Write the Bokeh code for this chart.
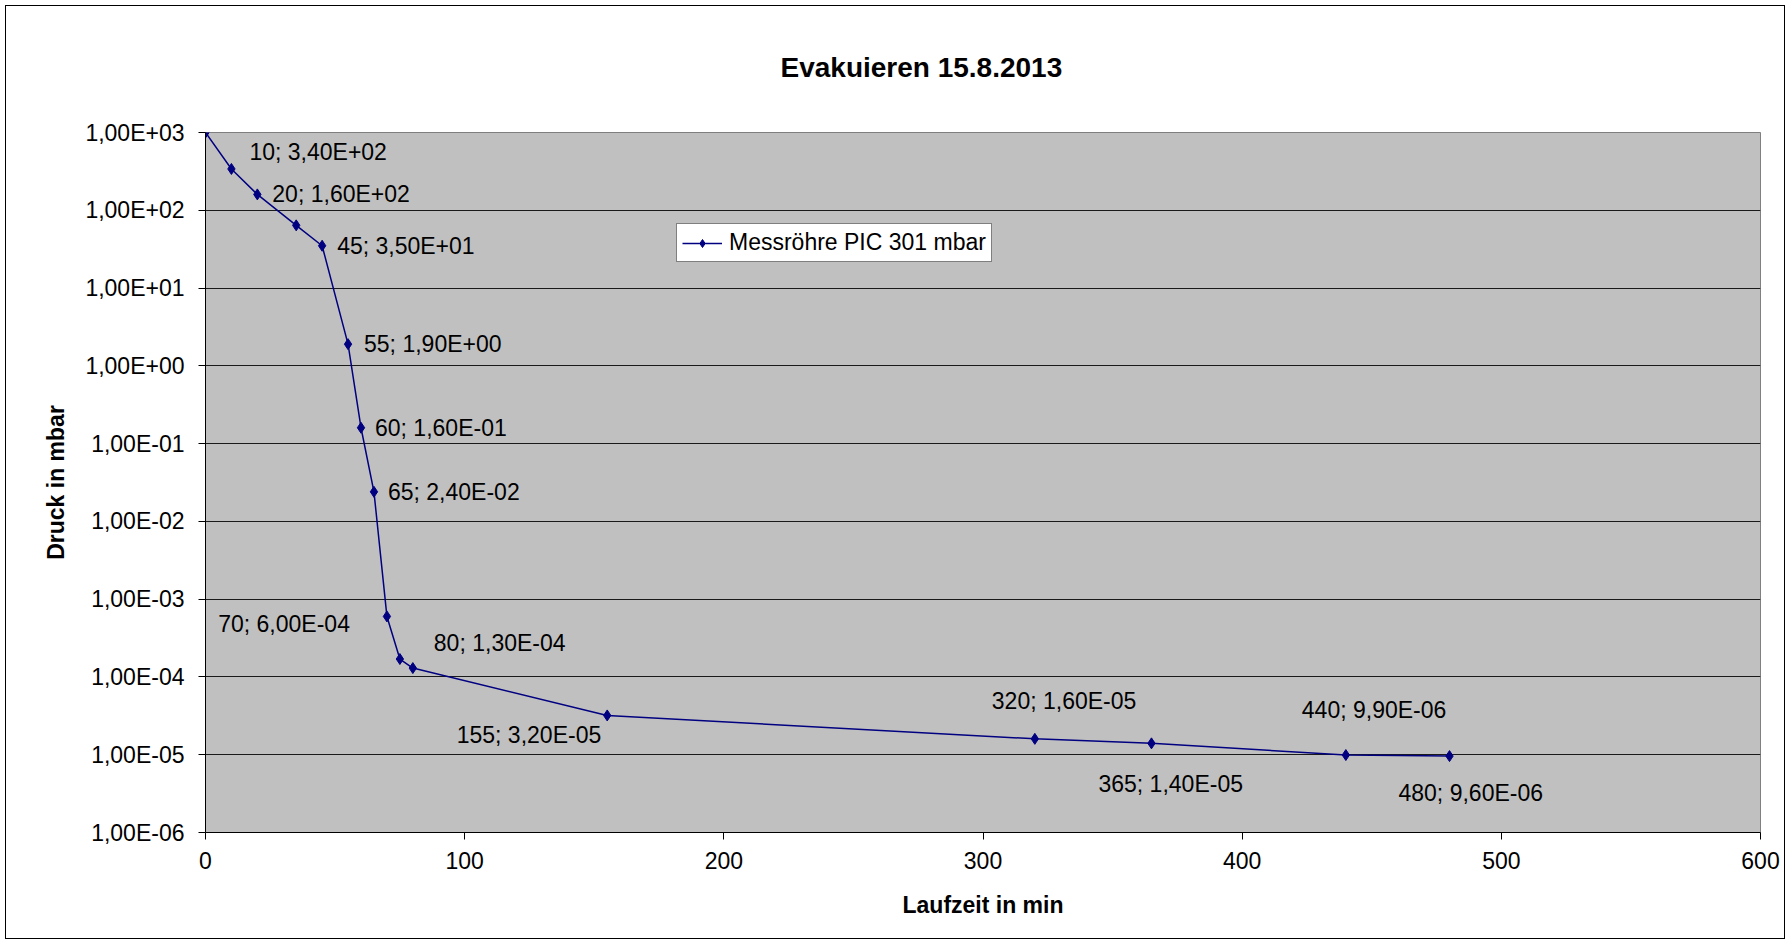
from bokeh.plotting import figure
from bokeh.models import (FixedTicker, CustomJSTickFormatter, ColumnDataSource,
                          Range1d, InlineStyleSheet)
from bokeh.embed import file_html
from bokeh.resources import INLINE
from bokeh.core.properties import value

# ---------------- data ----------------
time_min = [0, 10, 20, 35, 45, 55, 60, 65, 70, 75, 80, 155, 320, 365, 440, 480]
pressure_mbar = [1000, 340, 160, 64, 35, 1.9, 0.16, 0.024, 6.0e-4, 1.7e-4,
                 1.3e-4, 3.2e-5, 1.6e-5, 1.4e-5, 9.9e-6, 9.6e-6]
labelled = [False, True, True, False, True, True, True, True, True, False,
            True, True, True, True, True, True]

series_name = "Messröhre PIC 301 mbar"
title_text = "Evakuieren 15.8.2013"
x_title = "Laufzeit in min"
y_title = "Druck in mbar"

x_ticks = [0, 100, 200, 300, 400, 500, 600]
y_ticks = [1e-6, 1e-5, 1e-4, 1e-3, 1e-2, 1e-1, 1e0, 1e1, 1e2, 1e3]
y_tick_labels = ["1,00E-06", "1,00E-05", "1,00E-04", "1,00E-03", "1,00E-02",
                 "1,00E-01", "1,00E+00", "1,00E+01", "1,00E+02", "1,00E+03"]

# label placement (pixel offsets from the point, per labelled point, in order)
label_dx = [18, 15, 15, 16, 14, 14, -37, 21, -6, -43, -53, -44, -51]
label_dy = [-17, 0, 0, 0, 0, 0, 8, -25, 20, -38, 41, -45, 37]
label_align = ["left", "left", "left", "left", "left", "left", "right", "left",
               "right", "left", "left", "left", "left"]

FONT = "Liberation Sans"
FS = "23px"

# ---------------- figure ----------------
p = figure(width=1790, height=944, y_axis_type="log",
           x_range=Range1d(0, 600), y_range=Range1d(1e-6, 1e3),
           output_backend="svg", toolbar_location=None,
           min_border_left=205, min_border_right=30,
           min_border_top=132, min_border_bottom=112,
           background_fill_color="#C0C0C0", border_fill_color="white")

p.stylesheets = [InlineStyleSheet(css="""
:host::after { content: ""; position: absolute; left: 5px; top: 5px; right: 5px; bottom: 5px;
  border: 1px solid #000; pointer-events: none; z-index: 100; }
""")]

p.outline_line_color = "#808080"
p.outline_line_width = 1

# title
p.title.text = title_text
p.title.align = "left"
p.title.offset = 575
p.title.vertical_align = "top"
p.title.standoff = 96
p.title.text_font = FONT
p.title.text_font_size = "28px"
p.title.text_font_style = "bold"
p.title.text_color = "black"

# grids
p.xgrid.visible = False
p.ygrid.grid_line_color = "#1a1a1a"
p.ygrid.grid_line_width = 1

# axes
for ax in (p.xaxis[0], p.yaxis[0]):
    ax.axis_line_color = "black"
    ax.major_tick_line_color = "black"
    ax.minor_tick_line_color = None
    ax.major_tick_in = 0
    ax.major_tick_out = 7
    ax.major_label_text_font = FONT
    ax.major_label_text_font_size = FS
    ax.major_label_text_color = "black"
    ax.axis_label_text_font = FONT
    ax.axis_label_text_font_size = FS
    ax.axis_label_text_font_style = "bold"
    ax.axis_label_text_color = "black"

p.xaxis.ticker = FixedTicker(ticks=x_ticks, minor_ticks=[])
p.xaxis.axis_label = x_title
p.xaxis.major_label_standoff = 12
p.xaxis.axis_label_standoff = 20

p.yaxis.ticker = FixedTicker(ticks=y_ticks, minor_ticks=[])
p.yaxis.formatter = CustomJSTickFormatter(args=dict(tvals=y_ticks, tlabels=y_tick_labels), code="""
let best = 0, bd = Infinity;
for (let i = 0; i < tvals.length; i++) {
  const d = Math.abs(Math.log10(tvals[i]) - Math.log10(tick));
  if (d < bd) { bd = d; best = i; }
}
return tlabels[best];
""")
p.yaxis.axis_label = y_title
p.yaxis.major_label_standoff = 14
p.yaxis.axis_label_standoff = 13

# series
src = ColumnDataSource(dict(x=time_min, y=pressure_mbar))
p.line("x", "y", source=src, line_color="#000080", line_width=1.5,
       legend_label=series_name)
p.scatter("x", "y", source=src, marker="diamond", size=11,
          fill_color="#000080", line_color="#000080",
          legend_label=series_name)

# data labels
lx, ly, lt = [], [], []
for xv, yv, show in zip(time_min, pressure_mbar, labelled):
    if show:
        lx.append(xv)
        ly.append(yv)
        lt.append(f"{xv}; " + f"{yv:.2E}".replace(".", ","))

for al in ("left", "right"):
    idx = [i for i, a in enumerate(label_align) if a == al]
    s = ColumnDataSource(dict(x=[lx[i] for i in idx], y=[ly[i] for i in idx],
                              t=[lt[i] for i in idx],
                              dx=[label_dx[i] for i in idx],
                              dy=[label_dy[i] for i in idx]))
    p.text("x", "y", text="t", x_offset="dx", y_offset="dy", source=s,
           text_align=al, text_baseline="middle",
           text_font=value(FONT), text_font_size=FS, text_color="black")

# legend
lg = p.legend[0]
lg.location = (471, 570)
lg.background_fill_color = "white"
lg.background_fill_alpha = 1
lg.border_line_color = "black"
lg.border_line_width = 1
lg.label_text_font = FONT
lg.label_text_font_size = FS
lg.label_text_color = "black"
lg.glyph_width = 40
lg.glyph_height = 20
lg.label_height = 20
lg.label_standoff = 7
lg.padding = 5
lg.spacing = 0
lg.margin = 0

open("out.html", "w").write(file_html(p, INLINE))
